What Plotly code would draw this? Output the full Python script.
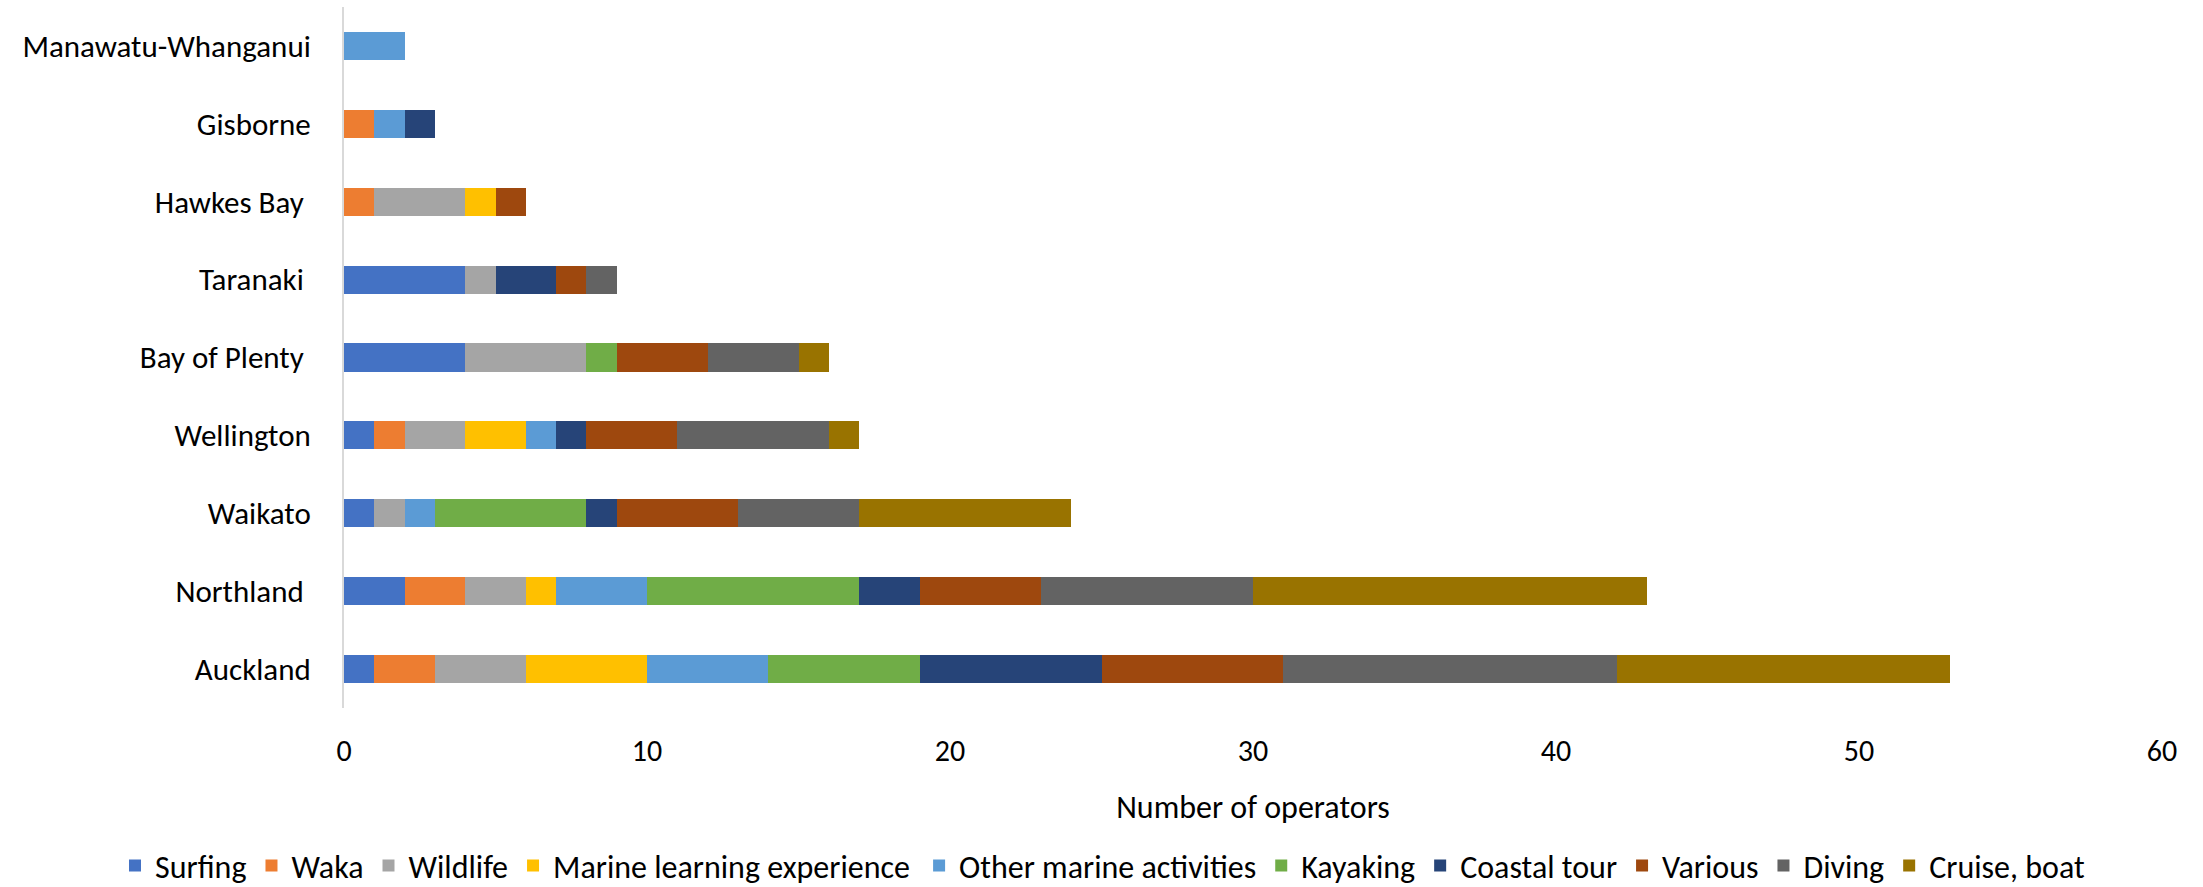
import plotly.graph_objects as go

regions = ["Auckland", "Northland ", "Waikato", "Wellington", "Bay of Plenty ",
           "Taranaki ", "Hawkes Bay ", "Gisborne", "Manawatu-Whanganui"]

activities = ["Surfing", "Waka", "Wildlife", "Marine learning experience",
              "Other marine activities", "Kayaking", "Coastal tour", "Various",
              "Diving", "Cruise, boat"]

surfing = [1, 2, 1, 1, 4, 4, 0, 0, 0]
waka = [2, 2, 0, 1, 0, 0, 1, 1, 0]
wildlife = [3, 2, 1, 2, 4, 1, 3, 0, 0]
marine_learning = [4, 1, 0, 2, 0, 0, 1, 0, 0]
other_marine = [4, 3, 1, 1, 0, 0, 0, 1, 2]
kayaking = [5, 7, 5, 0, 1, 0, 0, 0, 0]
coastal_tour = [6, 2, 1, 1, 0, 2, 0, 1, 0]
various = [6, 4, 4, 3, 3, 1, 1, 0, 0]
diving = [11, 7, 4, 5, 3, 1, 0, 0, 0]
cruise_boat = [11, 13, 7, 1, 1, 0, 0, 0, 0]

series = [surfing, waka, wildlife, marine_learning, other_marine,
          kayaking, coastal_tour, various, diving, cruise_boat]
colors = ["#4472C4", "#ED7D31", "#A5A5A5", "#FFC000", "#5B9BD5",
          "#70AD47", "#264478", "#9E480E", "#636363", "#997300"]

fig = go.Figure()
for i, (name, vals, col) in enumerate(zip(activities, series, colors)):
    # legend split in two halves so it stays on one row without pushing margins
    fig.add_trace(go.Bar(y=regions, x=vals, name=name, orientation="h",
                         legend="legend" if i < 4 else "legend2",
                         marker=dict(color=col, line=dict(width=0))))

font = "Calibri, Carlito, Lato, sans-serif"
leg = dict(orientation="h", xref="container", yref="container",
           xanchor="left", y=0.024, yanchor="middle", traceorder="normal",
           font=dict(size=32), itemwidth=30, tracegroupgap=0)
fig.update_layout(
    barmode="stack",
    bargap=0.64,
    width=2203, height=887,
    margin=dict(l=344, r=41, t=7, b=179),
    plot_bgcolor="white", paper_bgcolor="white",
    font=dict(family=font, size=30, color="#000000"),
    legend=dict(leg, x=0.0522),
    legend2=dict(leg, x=0.4172),
)
fig.update_xaxes(range=[0, 60], dtick=10, showgrid=False, zeroline=False,
                 showline=False, ticks="", ticklabelstandoff=22,
                 automargin=False,
                 title=dict(text="Number of operators", standoff=27,
                            font=dict(size=32)))
fig.update_yaxes(showline=True, linecolor="#D9D9D9", linewidth=2,
                 ticks="", ticklabelstandoff=25, showgrid=False,
                 automargin=False, tickfont=dict(size=31),
                 categoryorder="array", categoryarray=regions)

fig.write_html("out.html", config={"displayModeBar": False},
               post_script="document.body.style.margin='0';")
